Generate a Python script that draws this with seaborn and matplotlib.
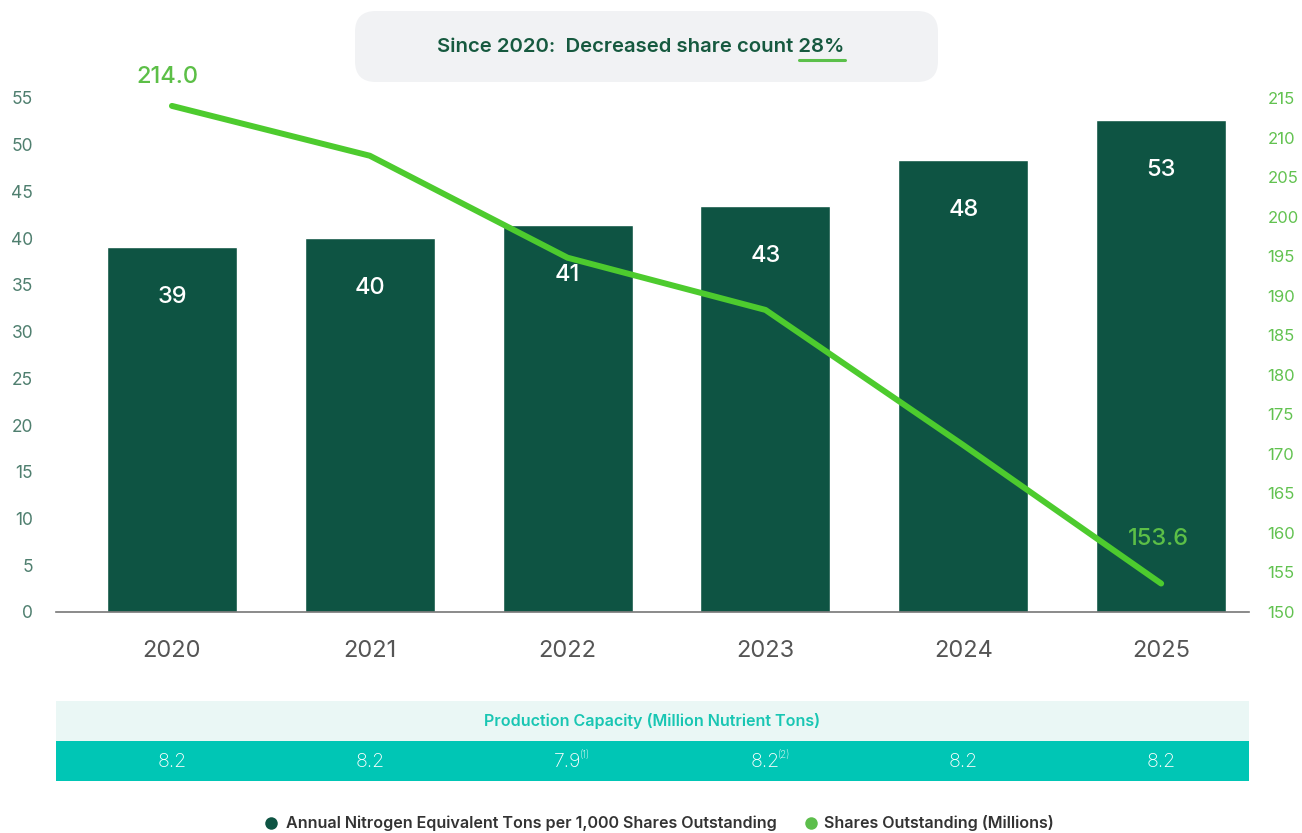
import numpy as np
import pandas as pd
import matplotlib
matplotlib.use("Agg")
import matplotlib.pyplot as plt
import seaborn as sns
from matplotlib.patches import FancyBboxPatch, Rectangle

# ---------------- data ----------------
years = ["2020", "2021", "2022", "2023", "2024", "2025"]
tons_per_1000 = [39.1, 40.0, 41.4, 43.4, 48.4, 52.6]
bar_labels = ["39", "40", "41", "43", "48", "53"]
shares_mm = [214.0, 207.7, 194.8, 188.2, 171.1, 153.6]
capacity = ["8.2", "8.2", "7.9", "8.2", "8.2", "8.2"]
capacity_notes = ["", "", "(1)", "(2)", "", ""]
left_ticks = [0, 5, 10, 15, 20, 25, 30, 35, 40, 45, 50, 55]
right_ticks = [150, 155, 160, 165, 170, 175, 180, 185, 190, 195, 200, 205, 210, 215]
banner_text = "Since 2020:  Decreased share count "
banner_pct = "28%"
table_title = "Production Capacity (Million Nutrient Tons)"
legend_labels = ["Annual Nitrogen Equivalent Tons per 1,000 Shares Outstanding",
                 "Shares Outstanding (Millions)"]

# ---------------- style ----------------
DARK = "#0E5443"
LINE = "#4DCB2E"
LINE_LBL = "#5CBF47"
RIGHT_TICK = "#62C250"
LEFT_TICK = "#4F7F6F"
XTICK = "#555555"
TEAL = "#00C6B5"
TEAL_LIGHT = "#EAF7F5"
TEAL_TXT = "#19C6B3"

sns.set_theme(style="white")
plt.rcParams["font.family"] = ["Inter", "DejaVu Sans"]

W, H = 1302, 833
fig = plt.figure(figsize=(W / 100, H / 100), dpi=100)

def fx(px):
    return px / W

def fy(py):
    return 1 - py / H

ax_l, ax_r, ax_t, ax_b = 56, 1249, 98, 612
ax = fig.add_axes([fx(ax_l), fy(ax_b), fx(ax_r - ax_l), (ax_b - ax_t) / H])

df = pd.DataFrame({"year": years, "tons": tons_per_1000, "shares": shares_mm})

sns.barplot(data=df, x="year", y="tons", color=DARK, width=0.657,
            saturation=1, ax=ax, zorder=2)
ax.set_xlim(-0.586, 5.444)
ax.set_ylim(0, 55)
ax.set_yticks(left_ticks)
ax.set_xlabel("")
ax.set_ylabel("")
ax.tick_params(axis="y", length=0, pad=16.5, labelsize=12.5, labelcolor=LEFT_TICK)
ax.tick_params(axis="x", length=0, pad=20, labelsize=17, labelcolor=XTICK)
for s in ["top", "left", "right"]:
    ax.spines[s].set_visible(False)
ax.spines["bottom"].set_color("#777777")
ax.spines["bottom"].set_linewidth(1.2)
ax.spines["bottom"].set_zorder(5)

for i, (v, lbl) in enumerate(zip(tons_per_1000, bar_labels)):
    ax.annotate(lbl, (i, v), xytext=(0, -36), textcoords="offset points",
                ha="center", va="center", color="white", fontsize=17,
                fontweight="medium", zorder=6)

ax2 = ax.twinx()
sns.lineplot(x=np.arange(len(years)), y=shares_mm, ax=ax2, color=LINE,
             linewidth=4.3, solid_capstyle="round", solid_joinstyle="round",
             zorder=4)
ax2.set_ylim(150, 215)
ax2.set_yticks(right_ticks)
ax2.tick_params(axis="y", length=0, pad=13.5, labelsize=12, labelcolor=RIGHT_TICK)
for s in ["top", "left", "right", "bottom"]:
    ax2.spines[s].set_visible(False)
ax2.set_ylabel("")

ax2.annotate(f"{shares_mm[0]:.1f}", (0, shares_mm[0]), xytext=(-3, 21),
             textcoords="offset points", ha="center", va="center",
             color=LINE_LBL, fontsize=17, fontweight="medium",
             annotation_clip=False)
ax2.annotate(f"{shares_mm[-1]:.1f}", (5, shares_mm[-1]), xytext=(-2, 32),
             textcoords="offset points", ha="center", va="center",
             color=LINE_LBL, fontsize=17, fontweight="medium",
             annotation_clip=False)

# ---------------- table ----------------
tab = fig.add_axes([fx(ax_l), fy(781), fx(ax_r - ax_l), (781 - 701) / H])
tab.set_xlim(ax.get_xlim())
tab.set_ylim(0, 2)
tab.axis("off")
tab.add_patch(Rectangle((-0.586, 1.0), 6.03, 1.0, color=TEAL_LIGHT, lw=0))
tab.add_patch(Rectangle((-0.586, 0.0), 6.03, 1.0, color=TEAL, lw=0))
tab.text(np.mean(ax.get_xlim()), 1.5, table_title, ha="center", va="center",
         color=TEAL_TXT, fontsize=11.6, fontweight="semibold")
for i, (v, note) in enumerate(zip(capacity, capacity_notes)):
    tab.text(i, 0.48, v, ha="center", va="center", color="white",
             fontsize=14, fontweight="light")
    if note:
        tab.annotate(note, (i, 0.48), xytext=(9, 5), textcoords="offset points",
                     ha="left", va="center", color="white", fontsize=7,
                     fontweight="light")

# ---------------- banner ----------------
bx0, bx1, by0, by1 = 355, 938, 11, 82
fig.patches.append(FancyBboxPatch((fx(bx0), fy(by1)), fx(bx1 - bx0), (by1 - by0) / H,
                                  boxstyle="round,pad=0,rounding_size=0.016",
                                  transform=fig.transFigure, facecolor="#F1F2F4",
                                  edgecolor="none", mutation_aspect=W / H))
bt = fig.text(fx(641), fy(47.5), banner_text + banner_pct, ha="center", va="center",
              color="#16593F", fontsize=14.6, fontweight="semibold")
fig.canvas.draw()
r = fig.canvas.get_renderer()
full = bt.get_window_extent(r)
tmp = fig.text(0, 0, banner_pct, fontsize=14.6, fontweight="semibold")
pw = tmp.get_window_extent(r).width
tmp.remove()
x1 = full.x1 / W
x0 = (full.x1 - pw) / W
fig.add_artist(plt.Line2D([x0, x1], [fy(60), fy(60)], transform=fig.transFigure,
                          color="#5BC04A", linewidth=2.2))

# ---------------- legend ----------------
ly = fy(823)
fig.add_artist(plt.Line2D([fx(271)], [ly], transform=fig.transFigure, marker="o",
                          markersize=9, color=DARK, markeredgewidth=0, linestyle=""))
fig.text(fx(286), ly, legend_labels[0], ha="left", va="center", color="#333333",
         fontsize=11.6, fontweight="semibold")
fig.add_artist(plt.Line2D([fx(811)], [ly], transform=fig.transFigure, marker="o",
                          markersize=9, color="#5DBE4C", markeredgewidth=0,
                          linestyle=""))
fig.text(fx(824), ly, legend_labels[1], ha="left", va="center", color="#333333",
         fontsize=11.6, fontweight="semibold")

fig.savefig("out.png", dpi=100)
